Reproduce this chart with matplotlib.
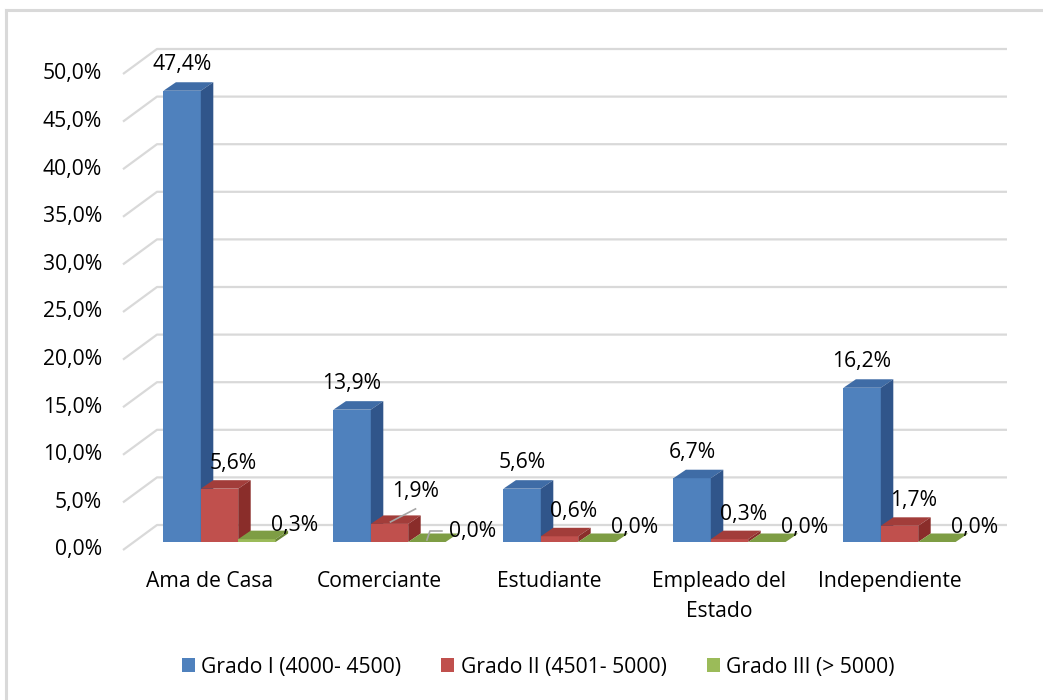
import matplotlib
matplotlib.use("Agg")
import matplotlib.pyplot as plt
from matplotlib.patches import Polygon
from matplotlib.lines import Line2D

# ---- data ----
categories = ["Ama de Casa", "Comerciante", "Estudiante", "Empleado del\nEstado", "Independiente"]
series_names = ["Grado I (4000- 4500)", "Grado II (4501- 5000)", "Grado III (> 5000)"]
grado_1 = [47.4, 13.9, 5.6, 6.7, 16.2]
grado_2 = [5.6, 1.9, 0.6, 0.3, 1.7]
grado_3 = [0.3, 0.0, 0.0, 0.0, 0.0]
y_ticks = [0, 5, 10, 15, 20, 25, 30, 35, 40, 45, 50]

series = [grado_1, grado_2, grado_3]

# ---- style ----
FONT = "Open Sans"
FS = 15.2
front_colors = ["#4F81BD", "#C0504D", "#9BBB59"]
top_colors = ["#3F6CA6", "#A23D3A", "#7E9D44"]
side_colors = ["#30558A", "#8A2D2A", "#6A8636"]
GRID = "#D9D9D9"

W, H = 1043, 700
CAT_PX = 170.0       # pixels between category groups
Y_PX = 9.52          # pixels per percentage point
ORIGIN_X = 219.5     # pixel centre of the first group
BASE_Y = 542.0       # pixel row of the bar baseline


def dx(px):
    return px / CAT_PX


def dy(px):
    return px / Y_PX


BAR_W = dx(37.4)
DEPTH_X, DEPTH_Y = dx(12.5), dy(8.5)          # bar depth
WALL_X, WALL_Y = dx(34.0), dy(25.0)           # floor depth (front edge -> back wall)
FRONT_X0 = dx(123 - ORIGIN_X)                  # front-left corner of the floor
FRONT_Y0 = dy(BASE_Y - 550)                    # front edge offset from baseline
WALL_X1 = dx(1007 - ORIGIN_X)

fig = plt.figure(figsize=(W / 100, H / 100), dpi=100)
ax = fig.add_axes([0, 0, 1, 1])
ax.set_xlim(-ORIGIN_X / CAT_PX, (W - ORIGIN_X) / CAT_PX)
ax.set_ylim((BASE_Y - H) / Y_PX, BASE_Y / Y_PX)
ax.axis("off")

# outer chart frame
fig.add_artist(Line2D([6 / W, 1], [1 - 10 / H, 1 - 10 / H], color=GRID, lw=2.2,
                      transform=fig.transFigure))
fig.add_artist(Line2D([6 / W, 6 / W], [0, 1 - 10 / H], color=GRID, lw=2.2,
                      transform=fig.transFigure))

# gridlines: side-wall diagonal + back wall
for v in y_ticks:
    yf = v + FRONT_Y0
    yb = yf + WALL_Y
    ax.plot([FRONT_X0, FRONT_X0 + WALL_X, WALL_X1], [yf, yb, yb],
            color=GRID, lw=1.6, zorder=1, solid_capstyle="butt")
    ax.text(dx(102 - ORIGIN_X), yf, f"{v:.1f}".replace(".", ",") + "%",
            ha="right", va="center", fontsize=FS, family=FONT, color="black")

# 3-D bars
for i in range(len(categories)):
    for k, vals in enumerate(series):
        v = vals[i]
        xc = i + (k - 1) * BAR_W
        x0, x1 = xc - BAR_W / 2, xc + BAR_W / 2
        z = 2 + i * 10 + k * 3
        ax.bar(xc, v, width=BAR_W, color=front_colors[k], zorder=z, linewidth=0)
        ax.add_patch(Polygon([(x0, v), (x1, v), (x1 + DEPTH_X, v + DEPTH_Y),
                              (x0 + DEPTH_X, v + DEPTH_Y)],
                             closed=True, facecolor=top_colors[k], lw=0, zorder=z + 1))
        ax.add_patch(Polygon([(x1, 0), (x1 + DEPTH_X, DEPTH_Y),
                              (x1 + DEPTH_X, v + DEPTH_Y), (x1, v)],
                             closed=True, facecolor=side_colors[k], lw=0, zorder=z + 1))

# data labels (pixel offsets from the front-top centre of each bar)
label_offset = [(0, 26), (14, 25), (38, 14)]
special_offset = {(1, 1): (26, 32), (1, 2): (46, 10)}
leaders = {
    (1, 1): [(1, 2), (26, 15)],
    (1, 2): [(0, 2), (3, 11), (15, 11)],
}
for i in range(len(categories)):
    for k, vals in enumerate(series):
        v = vals[i]
        xc = i + (k - 1) * BAR_W
        ox, oy = special_offset.get((i, k), label_offset[k])
        ax.text(xc + dx(ox), v + dy(oy), f"{v:.1f}".replace(".", ",") + "%",
                ha="center", va="center", fontsize=FS, family=FONT,
                color="black", zorder=100)
        if (i, k) in leaders:
            pts = leaders[(i, k)]
            ax.plot([xc + dx(p[0]) for p in pts], [v + dy(p[1]) for p in pts],
                    color="#A6A6A6", lw=1.2, zorder=99)

# category labels
for i, name in enumerate(categories):
    ax.text(i + dx(-10), dy(BASE_Y - 571), name, ha="center", va="top",
            fontsize=FS, family=FONT, color="black", linespacing=1.55)

# legend
handles = [plt.Rectangle((0, 0), 1, 1, facecolor=c, lw=0) for c in front_colors]
fig.legend(handles, series_names, loc="center", ncol=3, frameon=False,
           bbox_to_anchor=(538 / W, 1 - 667 / H), prop={"family": FONT, "size": FS},
           handlelength=0.62, handleheight=0.62, handletextpad=0.3,
           columnspacing=1.9, borderaxespad=0)

fig.savefig("out.png", dpi=100, facecolor="white")
